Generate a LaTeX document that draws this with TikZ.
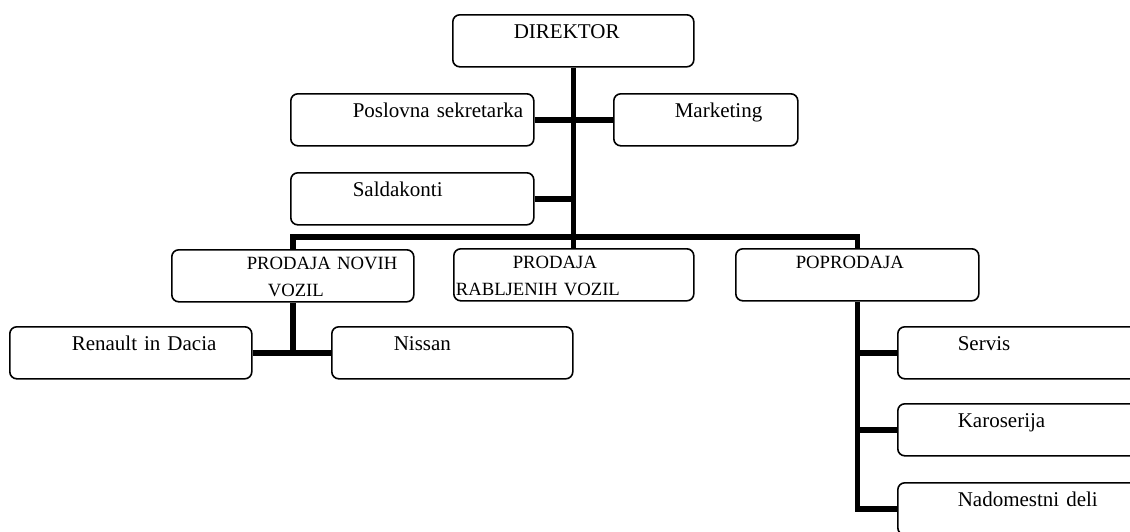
\documentclass[tikz,border=0pt]{standalone}
\usepackage{fontspec}
\setmainfont{Liberation Serif}
\tikzset{
  unit/.style={draw, line width=1.6pt, rounded corners=7pt, anchor=north west,
    inner xsep=0pt, inner ysep=0pt, text width=#1, align=left,
    text height=23.5pt, text depth=28.5pt, font=\fontsize{21}{27}\selectfont},
  unit/.default=242pt,
  twoline/.style={text height=20pt, text depth=32pt, font=\fontsize{18.7}{27}\selectfont},
  link/.style={line width=5.5pt},
}
\begin{document}
\begin{tikzpicture}[x=1pt, y=-1pt]
\useasboundingbox (0,0) rectangle (1130,531);
\clip (0,0) rectangle (1130,531);
\node[unit=241pt] (direktor) at (452,14) {\hspace*{61pt}DIREKTOR};
\node[unit=243pt] (sekretarka) at (290,93) {\hspace*{62pt}Poslovna sekretarka};
\node[unit=184pt] (marketing) at (613,93) {\hspace*{61pt}Marketing};
\node[unit=243pt] (saldakonti) at (290,172) {\hspace*{62pt}Saldakonti};
\node[unit, twoline] (novi) at (171,249) {\hspace*{75pt}PRODAJA NOVIH\\\hspace*{96pt}VOZIL};
\node[unit=240pt, twoline] (rabljeni) at (453,248) {\hspace*{59pt}PRODAJA\\\hspace*{2pt}RABLJENIH VOZIL};
\node[unit=243pt, twoline] (poprodaja) at (735,248) {\hspace*{60pt}POPRODAJA};
\node[unit] (renault) at (9,326) {\hspace*{62pt}Renault in Dacia};
\node[unit=241pt] (nissan) at (331,326) {\hspace*{62pt}Nissan};
\node[unit=243pt] (servis) at (897,326) {\hspace*{60pt}Servis};
\node[unit=243pt] (karoserija) at (897,403) {\hspace*{60pt}Karoserija};
\node[unit=243pt] (deli) at (897,482) {\hspace*{60pt}Nadomestni deli};
\draw[link] (direktor.south) -- (direktor.south |- rabljeni.north);
\draw[link] (sekretarka.east) -- (marketing.west);
\draw[link] (saldakonti.east) -- (saldakonti.east -| direktor.south);
\draw[link] (novi.north) -- ++(0,-12) -| (poprodaja.north);
\draw[link] (novi.south) -- (novi.south |- renault.east);
\draw[link] (renault.east) -- (nissan.west);
\draw[link] (poprodaja.south) |- (deli.west);
\draw[link] (servis.west) -- (servis.west -| poprodaja.south);
\draw[link] (karoserija.west) -- (karoserija.west -| poprodaja.south);
\end{tikzpicture}
\end{document}
